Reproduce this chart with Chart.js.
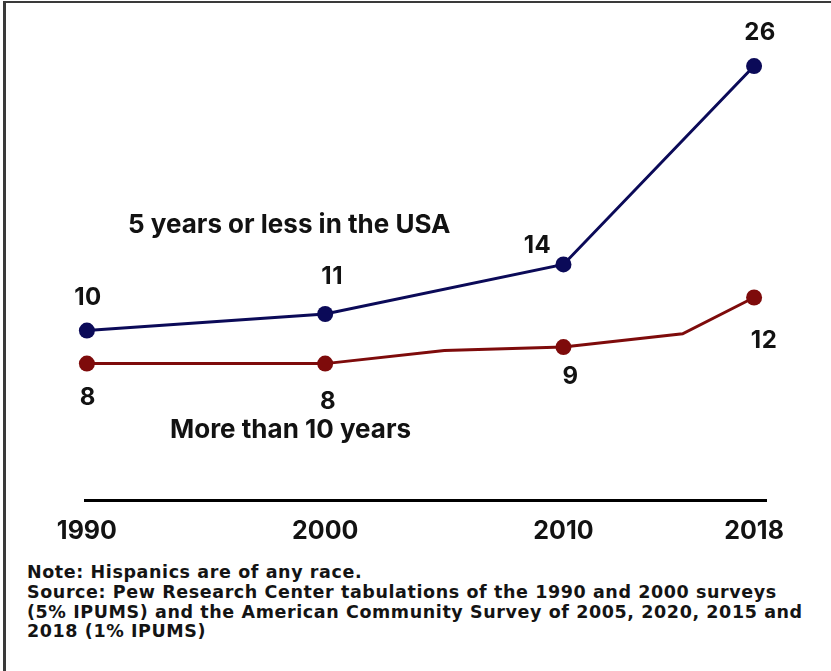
<!DOCTYPE html>
<html>
<head>
<meta charset="utf-8">
<script src="https://cdn.jsdelivr.net/npm/chart.js@4"></script>
<style>
  html, body { margin: 0; padding: 0; background: #fff; }
  body { width: 831px; height: 671px; position: relative; overflow: hidden; font-family: Inter, "Open Sans", sans-serif; }
  #frame { position: absolute; left: 3px; top: 1px; right: 0; bottom: 0; border-top: 2px solid #3a3a3a; border-left: 3px solid #3a3a3a; pointer-events: none; }
  #wrap { position: absolute; left: 0; top: 0; width: 831px; height: 560px; }
  #notes { position: absolute; left: 27px; top: 563px; font-family: "DejaVu Sans", Inter, sans-serif; font-weight: 700; font-size: 17.5px; letter-spacing: 0.6px; line-height: 19.8px; color: #141414; white-space: nowrap; }
</style>
</head>
<body>
<div id="frame"></div>
<div id="wrap"><canvas id="c"></canvas></div>
<div id="notes">Note: Hispanics are of any race.<br>Source: Pew Research Center tabulations of the 1990 and 2000 surveys<br>(5% IPUMS) and the American Community Survey of 2005, 2020, 2015 and<br>2018 (1% IPUMS)</div>
<script>
// Share (%) by time spent in the USA
const recentYears = [1990, 2000, 2010, 2018];
const recentShare = [10, 11, 14, 26];
const longYears = [1990, 2000, 2005, 2010, 2015, 2018];
const longShare = [8, 8, 8.8, 9, 9.8, 12];
const longLabelled = [true, true, false, true, false, true];
const tickYears = [1990, 2000, 2010, 2018];
const seriesNames = ['5 years or less in the USA', 'More than 10 years'];

const NAVY = '#0b0a58';
const MAROON = '#7e0b0b';
const INK = '#121212';
const FONT = 'Inter, "Open Sans", sans-serif';

// value label offsets (px) from each marker
const recentOffsets = [[1, -33], [7, -37], [-26, -19], [6, -33]];
const longOffsets = [[1, 34], [3, 38], null, [7, 30], null, [10, 43]];

const valueLabels = {
  id: 'valueLabels',
  afterDatasetsDraw(chart) {
    const ctx = chart.ctx;
    ctx.save();
    ctx.fillStyle = INK;
    ctx.textAlign = 'center';
    ctx.textBaseline = 'middle';
    ctx.font = '700 24px ' + FONT;
    ctx.letterSpacing = '0.5px';
    const sets = [[recentShare, recentOffsets], [longShare, longOffsets]];
    sets.forEach(([vals, offs], di) => {
      const meta = chart.getDatasetMeta(di);
      meta.data.forEach((pt, i) => {
        const o = offs[i];
        if (!o) return;
        ctx.fillText(String(vals[i]), pt.x + o[0], pt.y + o[1]);
      });
    });
    // series names
    ctx.textAlign = 'left';
    ctx.font = '700 26px ' + FONT;
    ctx.letterSpacing = '0px';
    ctx.fillText(seriesNames[0], 128, 225);
    ctx.fillText(seriesNames[1], 170, 430);
    ctx.restore();
  }
};

new Chart(document.getElementById('c'), {
  type: 'line',
  data: {
    datasets: [
      {
        label: seriesNames[0],
        data: recentYears.map((x, i) => ({ x, y: recentShare[i] })),
        borderColor: NAVY,
        backgroundColor: NAVY,
        borderWidth: 3,
        pointRadius: 8,
        pointHoverRadius: 8,
        pointBorderWidth: 0,
        tension: 0,
        clip: false
      },
      {
        label: seriesNames[1],
        data: longYears.map((x, i) => ({ x, y: longShare[i] })),
        borderColor: MAROON,
        backgroundColor: MAROON,
        borderWidth: 3,
        pointRadius: longLabelled.map(l => (l ? 8 : 0)),
        pointHoverRadius: longLabelled.map(l => (l ? 8 : 0)),
        pointBorderWidth: 0,
        tension: 0,
        clip: false
      }
    ]
  },
  options: {
    responsive: true,
    maintainAspectRatio: false,
    animation: false,
    layout: { padding: { top: 33, left: 85, right: 65, bottom: 8 } },
    plugins: { legend: { display: false }, tooltip: { enabled: false } },
    scales: {
      x: {
        type: 'linear',
        min: 1989.92,
        max: 2018.5,
        grid: { display: false, drawTicks: false },
        border: { display: true, color: '#000', width: 3 },
        ticks: {
          font: { family: FONT, size: 25, weight: '700' },
          color: INK,
          padding: 16,
          callback: v => String(v)
        },
        afterBuildTicks: s => { s.ticks = tickYears.map(v => ({ value: v })); },
        afterFit: s => { s.height = 52; }
      },
      y: { display: false, min: -0.25, max: 28 }
    }
  },
  plugins: [valueLabels]
});
</script>
</body>
</html>
